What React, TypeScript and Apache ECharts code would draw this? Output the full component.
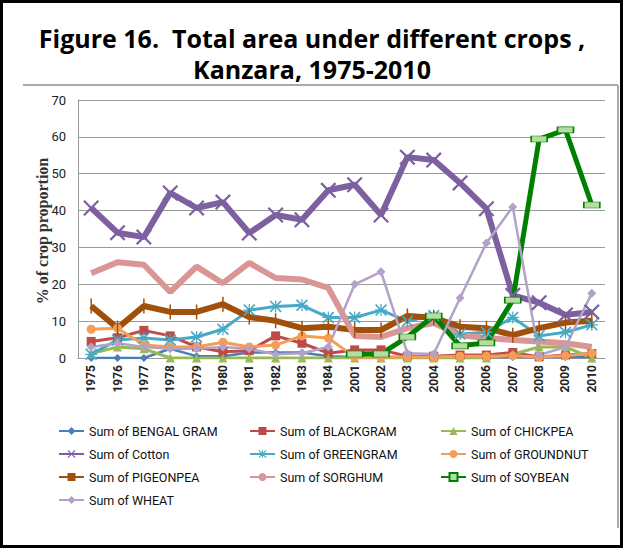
import React, { useEffect, useRef } from "react";
import * as echarts from "echarts";

const years = ["1975","1976","1977","1978","1979","1980","1981","1982","1983","1984","2001","2002","2003","2004","2005","2006","2007","2008","2009","2010"];
const bengalGram = [0, 0, 0, 2.5, 0.5, 0.5, 1.5, 1.5, 1.5, 0.5, 0.3, 0.3, 0.3, 0.3, 0.3, 0.3, 0.3, 0.3, 0.3, 0.3];
const blackgram = [4.5, 5.5, 7.5, 6, 3, 1.7, 2, 6, 4, 1.3, 2.2, 2.2, 0.5, 0.5, 0.8, 0.8, 1.5, 0.3, 0.8, 1.2];
const chickpea = [1.2, 3, 2.5, 0, 0, 0, 0, 0, 0, 0, 0, 0, 0, 0, 0, 0, 1, 3, 3, 0];
const cotton = [40.7, 34, 32.8, 44.8, 40.7, 42.3, 33.9, 38.8, 37.5, 45.5, 47, 38.8, 54.5, 53.7, 47.5, 40.5, 17, 15, 11.7, 12.5];
const greengram = [1, 4.9, 5.4, 4.9, 5.7, 7.8, 13, 14, 14.3, 11, 11, 13, 10, 11.5, 6.5, 7, 11, 6, 7, 9];
const groundnut = [7.8, 8.1, 3.5, 3, 3, 4.3, 3, 3.5, 6, 5.4, 0.3, 0.3, 0.3, 0.3, 0.5, 0.5, 0.6, 0.3, 0.6, 1.3];
const pigeonpea = [14.1, 8.1, 14.1, 12.5, 12.5, 14.6, 11.1, 10.1, 8.1, 8.5, 7.6, 7.6, 11.4, 10.9, 8.5, 8.1, 6.2, 8.1, 9.6, 10.1];
const sorghum = [23, 26, 25.3, 17.9, 24.8, 20.3, 25.8, 21.7, 21.3, 19, 6, 5.7, 8.1, 9.5, 6.2, 5.4, 4.9, 4.5, 4, 3];
const soybean = [null, null, null, null, null, null, null, null, null, null, 1.1, 1.1, 5.7, 11.4, 3.3, 4.1, 15.7, 59.4, 61.9, 41.5];
const wheat = [3, 4, 3, 2.5, 2.5, 3, 2.5, 1, 1.3, 3, 20, 23.4, 1.3, 1.1, 16.3, 31.2, 41, 0.8, 3, 17.6];
const yTicks = [0, 10, 20, 30, 40, 50, 60, 70];
const titleText = "Figure 16.  Total area under different crops ,\nKanzara, 1975-2010";
const yName = "% of crop proportion";

const X_PATH = "path://M1,0 L5,4 L9,0 L10,1 L6,5 L10,9 L9,10 L5,6 L1,10 L0,9 L4,5 L0,1 Z";
const STAR_PATH = "path://M1,0 L5,4 L9,0 L10,1 L6,5 L10,9 L9,10 L5,6 L1,10 L0,9 L4,5 L0,1 Z M4.5,0 L5.5,0 L5.5,10 L4.5,10 Z M0,4.5 L10,4.5 L10,5.5 L0,5.5 Z";

const NARROW = "'Liberation Sans Narrow', 'Arial Narrow', Roboto, 'Noto Sans', sans-serif";

export default function App() {
  const ref = useRef<HTMLDivElement>(null);
  useEffect(() => {
    document.body.style.margin = "0";
    const chart = echarts.init(ref.current!, null, { renderer: "svg" });
    const mk = (name: string, data: any[], color: string, width: number, symbol: any, symbolSize: any, extra: any = {}) => ({
      name,
      type: "line",
      data,
      symbol,
      symbolSize,
      showSymbol: true,
      lineStyle: { color, width },
      itemStyle: { color, ...(extra.itemStyle || {}) },
      emphasis: { disabled: true },
      connectNulls: false,
    });
    chart.setOption({
      animation: false,
      backgroundColor: "#ffffff",
      grid: { left: 78, right: 18, top: 100, bottom: 190, containLabel: false },
      xAxis: {
        type: "category",
        data: years,
        boundaryGap: true,
        axisLine: { lineStyle: { color: "#999", width: 1 } },
        axisTick: { show: false },
        axisLabel: { rotate: 90, interval: 0, fontFamily: NARROW, fontSize: 12, fontWeight: "bold", color: "#222", margin: 7 },
      },
      yAxis: {
        type: "value",
        min: 0,
        max: 70,
        interval: 10,
        axisLine: { show: true, lineStyle: { color: "#999" } },
        axisTick: { show: false },
        axisLabel: { fontFamily: NARROW, fontSize: 13, color: "#222", margin: 12, formatter: (v: number) => (yTicks.includes(v) ? String(v) : "") },
        splitLine: { lineStyle: { color: "#9a9a9a", width: 1 } },
      },
      legend: {
        left: 53,
        top: 418,
        width: 600,
        itemWidth: 25,
        itemHeight: 10,
        itemGap: 7,
        itemTextGap: 3,
        textStyle: { fontFamily: NARROW, fontSize: 12.5, lineHeight: 16, color: "#111", width: 153, overflow: "truncate" },
        data: ["Sum of BENGAL GRAM", "Sum of BLACKGRAM", "Sum of CHICKPEA", "Sum of Cotton", "Sum of GREENGRAM", "Sum of GROUNDNUT", "Sum of PIGEONPEA", "Sum of SORGHUM", "Sum of SOYBEAN", "Sum of WHEAT"],
      },
      graphic: [
        { type: "rect", shape: { x: 1.5, y: 1.5, width: 620, height: 545 }, style: { fill: "none", stroke: "#000", lineWidth: 3 }, silent: true },
        { type: "line", shape: { x1: 23, y1: 85, x2: 618, y2: 85 }, style: { stroke: "#aaa", lineWidth: 2 }, silent: true },
        { type: "line", shape: { x1: 618, y1: 85, x2: 618, y2: 528 }, style: { stroke: "#aaa", lineWidth: 2 }, silent: true },
        { type: "text", x: 312, y: 53, silent: true, style: { text: titleText, fill: "#000", font: "bold 25px 'Open Sans', Lato, sans-serif", lineHeight: 31, textAlign: "center", textVerticalAlign: "middle" } },
        { type: "text", x: 42, y: 231, rotation: Math.PI / 2, silent: true, style: { text: yName, fill: "#333", font: "bold 16px 'Liberation Serif', 'DejaVu Serif', serif", textAlign: "center", textVerticalAlign: "middle" } },
      ],
      series: [
        mk("Sum of BENGAL GRAM", bengalGram, "#4A7EBB", 2.5, "diamond", 8),
        mk("Sum of BLACKGRAM", blackgram, "#BE4B48", 3, "rect", 9),
        mk("Sum of CHICKPEA", chickpea, "#98B954", 3, "triangle", 9),
        mk("Sum of Cotton", cotton, "#7D60A0", 6, X_PATH, 16),
        mk("Sum of GREENGRAM", greengram, "#46AAC5", 3, STAR_PATH, 12),
        mk("Sum of GROUNDNUT", groundnut, "#F59D56", 3, "circle", 9),
        mk("Sum of PIGEONPEA", pigeonpea, "#A0500A", 6, "rect", [1.5, 15]),
        mk("Sum of SORGHUM", sorghum, "#DA9694", 6, "none", 0),
        mk("Sum of SOYBEAN", soybean, "#008000", 5, "rect", [16, 6], { itemStyle: { color: "#B5DDA0", borderColor: "#008000", borderWidth: 1 } }),
        mk("Sum of WHEAT", wheat, "#B3A2C7", 2.5, "diamond", 9),
      ],
    });
    return () => chart.dispose();
  }, []);
  return <div ref={ref} style={{ width: 623, height: 548, position: "absolute", left: 0, top: 0 }} />;
}
